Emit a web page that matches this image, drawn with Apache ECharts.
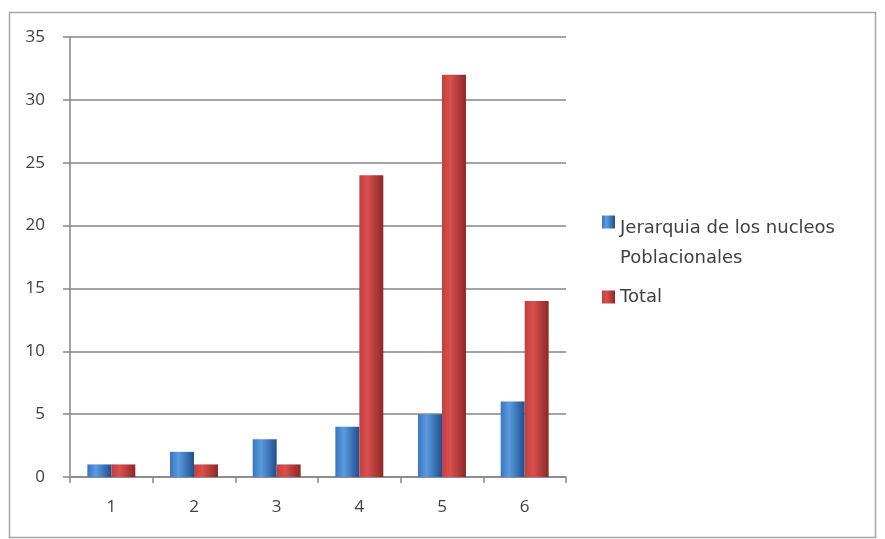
<!DOCTYPE html>
<html>
<head>
<meta charset="utf-8">
<script src="https://cdn.jsdelivr.net/npm/echarts@6/dist/echarts.min.js"></script>
<style>
  html, body { margin: 0; padding: 0; background: #fff; }
  #chart { width: 885px; height: 539px; }
</style>
</head>
<body>
<div id="chart"></div>
<script>
// datos
var categorias = ['1', '2', '3', '4', '5', '6'];
var jerarquia = [1, 2, 3, 4, 5, 6];
var total = [1, 1, 1, 24, 32, 14];
var nombres = ['Jerarquia de los nucleos Poblacionales', 'Total'];

function degradado(claro, medio, oscuro) {
    return new echarts.graphic.LinearGradient(0, 0, 1, 0, [
        { offset: 0, color: medio },
        { offset: 0.35, color: claro },
        { offset: 1, color: oscuro }
    ]);
}

var mychart = echarts.init(document.getElementById('chart'));
var option = {
    animation: false,
    textStyle: { fontFamily: 'Open Sans' },
    grid: { left: 70, right: 319, top: 37, bottom: 62 },
    graphic: [{
        type: 'rect',
        shape: { x: 9.5, y: 12.5, width: 866, height: 525 },
        style: { fill: 'none', stroke: '#a6a6a6', lineWidth: 1.5 },
        silent: true
    }],
    legend: [
        {
            // primer elemento, en dos lineas con el icono junto a la primera
            orient: 'vertical',
            left: 602,
            top: 187,
            padding: 0,
            itemWidth: 13,
            itemHeight: 13,
            icon: 'rect',
            data: [nombres[0]],
            formatter: function () {
                return '{e| }\n{a|Jerarquia de los nucleos}\n{a|Poblacionales}';
            },
            textStyle: {
                rich: {
                    e: { lineHeight: 43, fontSize: 10 },
                    a: { fontFamily: 'DejaVu Sans', fontSize: 18, color: '#404040', lineHeight: 30 }
                }
            }
        },
        {
            orient: 'vertical',
            left: 602,
            top: 288,
            padding: 0,
            itemWidth: 13,
            itemHeight: 13,
            icon: 'rect',
            data: [nombres[1]],
            textStyle: { fontFamily: 'DejaVu Sans', fontSize: 18, color: '#404040' }
        }
    ],
    xAxis: {
        type: 'category',
        data: categorias,
        axisLine: { lineStyle: { color: '#868686', width: 1.5 } },
        axisTick: { show: true, length: 6, lineStyle: { color: '#868686', width: 1.5 } },
        axisLabel: { fontSize: 17, color: '#404040', margin: 22 }
    },
    yAxis: {
        type: 'value',
        min: 0,
        max: 35,
        interval: 5,
        axisLine: { show: true, lineStyle: { color: '#868686', width: 1.5 } },
        axisTick: { show: true, length: 7, lineStyle: { color: '#868686', width: 1.5 } },
        axisLabel: { fontSize: 17, color: '#404040', margin: 25 },
        splitLine: { lineStyle: { color: '#868686', width: 1.5 } }
    },
    series: [
        {
            name: nombres[0],
            type: 'bar',
            data: jerarquia,
            barGap: '0%',
            barCategoryGap: '42%',
            itemStyle: { color: degradado('#5b9be0', '#3a74c0', '#1f4f8f') }
        },
        {
            name: nombres[1],
            type: 'bar',
            data: total,
            itemStyle: { color: degradado('#d9504d', '#c04040', '#8c2826') }
        }
    ]
};
mychart.setOption(option);
</script>
</body>
</html>
